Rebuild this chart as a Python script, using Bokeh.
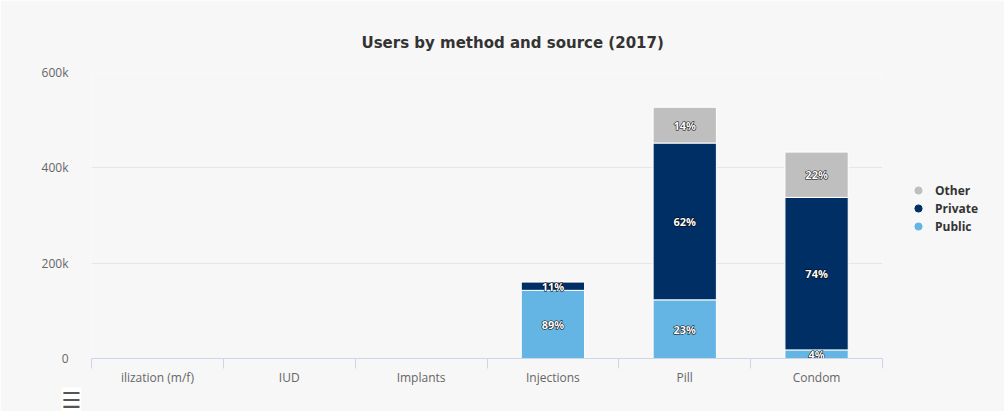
from bokeh.plotting import figure
from bokeh.models import (ColumnDataSource, FactorRange, LinearAxis, FixedTicker,
                          CustomJSTickFormatter, NumeralTickFormatter, Legend, LegendItem,
                          Title)
from bokeh.core.properties import value
from bokeh.embed import file_html
from bokeh.resources import INLINE

categories = ["ilization (m/f)", "IUD", "Implants", "Injections", "Pill", "Condom"]
public = [0, 0, 0, 143000, 123000, 18000]
private = [0, 0, 0, 18000, 329000, 320000]
other = [0, 0, 0, 0, 75000, 95000]
series_names = ["Public", "Private", "Other"]
series_colors = ["#64b5e3", "#002f65", "#bfbfbf"]
y_ticks = [0, 200000, 400000, 600000]
title_text = "Users by method and source (2017)"

FONT = "Open Sans"

p = figure(width=1004, height=411, frame_width=791, frame_height=286,
           x_range=FactorRange(factors=categories),
           y_range=(0, 600000), output_backend="svg", toolbar_location=None,
           x_axis_location=None, min_border_left=91, min_border_right=0,
           min_border_top=72, min_border_bottom=53)
p.background_fill_color = "#f7f7f7"
p.border_fill_color = "#f7f7f7"
p.outline_line_color = None

src = ColumnDataSource(dict(cat=categories, Public=public, Private=private, Other=other))
p.vbar_stack(series_names, x="cat", width=0.48, source=src, color=series_colors,
             line_color="white", line_width=1)

# data labels
lx, ly, lt = [], [], []
for i, c in enumerate(categories):
    tot = public[i] + private[i] + other[i]
    base = 0
    for v in (public[i], private[i], other[i]):
        if v > 0:
            lx.append(c)
            ly.append(base + v / 2)
            lt.append("%d%%" % round(100 * v / tot))
        base += v
lsrc = ColumnDataSource(dict(x=lx, y=ly, t=lt))
common = dict(x="x", y="y", text="t", source=lsrc, text_align="center",
              text_baseline="middle", text_font=value(FONT), text_font_style="bold",
              text_font_size="11px")
p.text(text_color="black", text_outline_color="black", **common)
p.text(text_color="white", **common)

# axes
p.yaxis.ticker = FixedTicker(ticks=y_ticks)
p.yaxis.formatter = NumeralTickFormatter(format="0a")
p.yaxis.axis_line_color = None
p.yaxis.major_tick_line_color = None
p.yaxis.minor_tick_line_color = None
p.yaxis.major_label_text_color = "#666666"
p.yaxis.major_label_text_font = FONT
p.yaxis.major_label_text_font_size = "12px"
p.yaxis.major_label_standoff = 17

p.ygrid.ticker = FixedTicker(ticks=y_ticks)
p.ygrid.grid_line_color = "#e6e6e6"
p.xgrid.grid_line_color = None

n = len(categories)
xaxis = LinearAxis(
    ticker=FixedTicker(ticks=[i + 0.5 for i in range(n)], minor_ticks=list(range(n + 1))),
    formatter=CustomJSTickFormatter(args=dict(cats=categories),
                                    code="return cats[Math.floor(tick)] || ''"),
    axis_line_color="#ccd6eb", major_tick_line_color=None,
    minor_tick_line_color="#ccd6eb", minor_tick_out=10, minor_tick_in=0,
    major_label_text_color="#666666", major_label_text_font=FONT,
    major_label_text_font_size="12px", major_label_standoff=0)
p.add_layout(xaxis, "below")

# export-menu icon below the axis
p.add_layout(Title(text="\u2630", align="left", offset=-30, standoff=-6,
                   text_font="DejaVu Sans", text_font_size="22px", text_font_style="normal",
                   text_color="#555555", background_fill_color="white"), "below")

# title
p.title = Title(text=title_text, align="left", text_font="DejaVu Sans", text_font_size="15px",
                text_font_style="bold", text_color="#333333", offset=270, standoff=41)

# legend with circle markers (marker-only renderers, no drawn points)
leg_src = ColumnDataSource(dict(x=[categories[0]], y=[float("nan")]))
items = []
for name, col in reversed(list(zip(series_names, series_colors))):
    r = p.scatter(x="x", y="y", source=leg_src, marker="circle", size=12, color=col)
    items.append(LegendItem(label=name, renderers=[r]))
legend = Legend(items=items, location=(27, 123), orientation="vertical",
                background_fill_alpha=0, border_line_color=None, padding=0, margin=0,
                spacing=0, glyph_width=18, glyph_height=18, label_height=18,
                label_standoff=8, label_text_font=FONT, label_text_font_size="12px",
                label_text_font_style="bold", label_text_color="#333333")
p.add_layout(legend, "right")

out = file_html(p, INLINE)
open("out.html", "w").write(out)
